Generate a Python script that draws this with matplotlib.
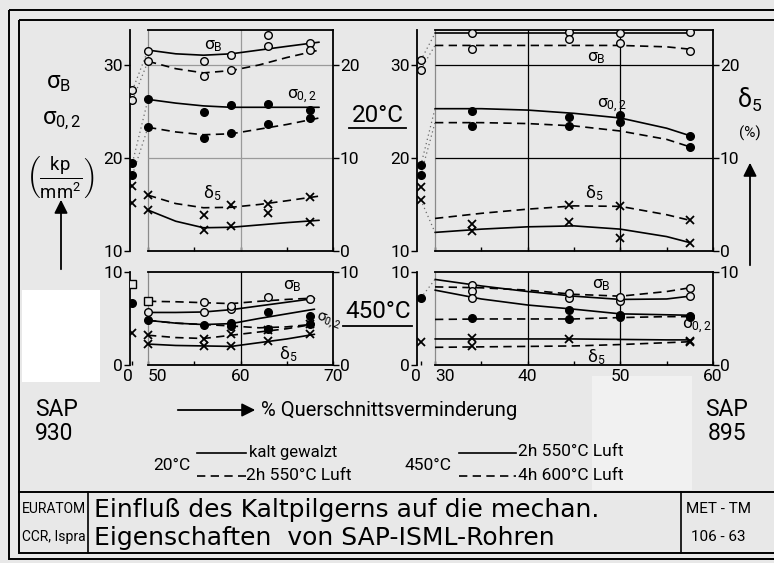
import numpy as np
import matplotlib
matplotlib.use("Agg")
import matplotlib.pyplot as plt
from matplotlib.patches import Rectangle

plt.rcParams['font.family'] = ['Roboto', 'DejaVu Sans']
plt.rcParams['mathtext.fontset'] = 'custom'
plt.rcParams['mathtext.rm'] = 'Roboto'
plt.rcParams['mathtext.it'] = 'Roboto:italic'
plt.rcParams['mathtext.bf'] = 'Roboto:bold'

nan = np.nan

# ---------------- data: SAP 930 ----------------
x930 = [50, 56, 59, 63, 67.5]          # measured % reduction
k930 = [50, 53, 56, 59, 62, 65, 68.5]   # knots of drawn curves (20 C)
k930b = [50, 53, 56, 59, 62, 65, 68]    # knots of drawn curves (450 C)

# 20 C  (sigma in kp/mm2, delta5 in %)
sB930_20_kalt = [31.5, nan, 31.1, 32.0, 32.4]
sB930_20_gegl = [30.4, 28.8, 29.5, nan, 31.6]
sB930_20_extra_x = [56, 63]
sB930_20_extra = [30.4, 33.2]
s02930_20_kalt = [26.3, 24.9, 25.7, 25.8, 25.2]
s02930_20_gegl = [23.3, 22.2, 22.7, 23.7, 24.3]
d5930_20_kalt = [4.4, 2.3, 2.7, nan, 3.15]
d5930_20_gegl = [6.0, 3.9, 4.9, 5.05, 5.8]
d5930_20_extra_x = [63]
d5930_20_extra = [4.05]

sB930_20_kalt_fit = [31.6, 31.2, 31.05, 31.2, 31.6, 32.0, 32.45]
sB930_20_gegl_fit = [30.4, 29.6, 29.15, 29.4, 30.0, 30.8, 31.6]
s02930_20_kalt_fit = [26.3, 25.9, 25.6, 25.45, 25.45, 25.45, 25.45]
s02930_20_gegl_fit = [23.3, 22.8, 22.5, 22.6, 23.1, 23.6, 24.3]
d5930_20_kalt_fit = [4.4, 3.2, 2.5, 2.55, 2.8, 3.05, 3.3]
d5930_20_gegl_fit = [6.0, 5.1, 4.65, 4.7, 5.0, 5.4, 5.9]

sB930_20_0 = [27.3, 26.2]
s02930_20_0 = [19.5, 18.2]
d5930_20_0 = [7.0, 5.2]

# 450 C
sB930_450_a = [5.7, 5.7, 6.0, nan, nan]
sB930_450_b = [6.85, 6.75, 6.3, 7.3, 7.1]
s02930_450_a = [4.8, 4.35, 4.5, 5.7, 5.3]
s02930_450_b = [nan, nan, 4.2, 3.9, 4.4]
d5930_450_a = [2.25, 2.05, 2.0, 2.6, 3.3]
d5930_450_b = [3.2, 2.8, 3.3, 3.8, 4.4]

sB930_450_a_fit = [5.65, 5.65, 5.7, 5.95, 6.35, 6.75, 7.15]
sB930_450_b_fit = [6.85, 6.8, 6.7, 6.6, 6.85, 7.05, 7.2]
s02930_450_a_fit = [4.8, 4.5, 4.35, 4.45, 5.0, 5.5, 6.0]
s02930_450_b_fit = [4.8, 4.5, 4.35, 4.2, 4.0, 4.1, 4.4]
d5930_450_a_fit = [2.25, 2.1, 2.05, 2.0, 2.4, 2.8, 3.3]
d5930_450_b_fit = [3.2, 2.95, 2.85, 3.2, 3.55, 3.9, 4.4]

sB930_450_0 = [8.7]
s02930_450_0 = [6.7]
d5930_450_0 = [3.4]

# ---------------- data: SAP 895 ----------------
x895 = [34, 44.5, 50, 57.5]
k895 = [30, 35, 40, 45, 50, 55, 57.5]

sB895_20_kalt = [33.4, 33.5, 33.4, 33.5]
sB895_20_gegl = [31.7, 32.8, 32.4, 31.5]
s02895_20_kalt = [25.0, 24.4, 24.6, 22.4]
s02895_20_gegl = [23.4, 23.4, 23.9, 21.2]
d5895_20_kalt = [2.1, 3.15, 1.4, 0.9]
d5895_20_gegl = [nan, 4.95, 4.8, 3.3]
d5895_20_extra_x = [34]
d5895_20_extra = [2.9]

sB895_20_kalt_fit = [33.4, 33.4, 33.4, 33.4, 33.4, 33.4, 33.4]
sB895_20_gegl_fit = [32.1, 32.1, 32.1, 32.1, 32.1, 31.95, 31.7]
s02895_20_kalt_fit = [25.3, 25.3, 25.15, 24.8, 24.3, 23.2, 22.4]
s02895_20_gegl_fit = [23.8, 23.8, 23.7, 23.45, 22.9, 22.0, 21.2]
d5895_20_kalt_fit = [2.0, 2.35, 2.6, 2.7, 2.35, 1.55, 0.9]
d5895_20_gegl_fit = [3.5, 4.05, 4.5, 4.85, 4.8, 3.9, 3.3]

sB895_20_0 = [30.5, 29.5]
s02895_20_0 = [19.2, 18.2]
d5895_20_0 = [6.9, 5.5]

sB895_450_a = [8.6, 7.2, 6.9, 7.4]
sB895_450_b = [8.0, 7.7, 7.35, 8.3]
sB895_450_extra_x = [34]
sB895_450_extra = [7.2]
s02895_450_a = [nan, 5.9, 5.4, 5.3]
s02895_450_b = [5.05, 4.95, 5.2, 5.2]
d5895_450_a = [2.9, 2.8, nan, 2.6]
d5895_450_b = [2.05, nan, nan, 2.5]

sB895_450_a_fit = [9.2, 8.5, 7.9, 7.4, 7.05, 7.1, 7.4]
sB895_450_b_fit = [8.4, 8.3, 8.05, 7.6, 7.4, 7.9, 8.3]
s02895_450_a_fit = [8.05, 7.1, 6.45, 6.0, 5.5, 5.4, 5.35]
s02895_450_b_fit = [4.9, 4.95, 4.95, 4.95, 5.1, 5.2, 5.2]
d5895_450_a_fit = [2.8, 2.8, 2.8, 2.8, 2.75, 2.7, 2.7]
d5895_450_b_fit = [1.9, 1.95, 2.0, 2.05, 2.2, 2.4, 2.5]

s02895_450_0 = [7.2]
d5895_450_0 = [2.5]

# ---------------- figure ----------------
W, H = 774, 563
BG = '#e8e8e8'
fig = plt.figure(figsize=(W / 100, H / 100), dpi=100, facecolor=BG)
bg = fig.add_axes([0, 0, 1, 1], zorder=-5)
bg.set_xlim(0, W)
bg.set_ylim(H, 0)
bg.axis('off')


def rect(l, t, r, b):
    return [l / W, 1 - b / H, (r - l) / W, (b - t) / H]


SOLID = '-'
DASH = (0, (5, 3.2))
DOT = (0, (1, 2.5))
LW = 1.2


def make_panel(l, t, r, box_l, b, xlo, brk, xhi, ylim_s, ylim_d,
               yt_s, yt_d, xt, xlabels, minor_x, grid_x, grid_y, gcol):
    ax = fig.add_axes(rect(l, t, r, b))
    ax.patch.set_alpha(0)
    box_px = r - box_l
    gap_units = (box_l - l) * (xhi - brk) / box_px
    k = gap_units / (brk - xlo)

    def fwd(x):
        x = np.asarray(x, float)
        return np.where(x >= brk, x, brk - (brk - x) * k)

    def inv(u):
        u = np.asarray(u, float)
        return np.where(u >= brk, u, brk - (brk - u) / k)

    ax.set_xscale('function', functions=(fwd, inv))
    ax.set_xlim(xlo, xhi)
    ax.set_ylim(*ylim_s)
    for s in ['bottom', 'top']:
        ax.spines[s].set_bounds(brk, xhi)
        ax.spines[s].set_linewidth(1.3)
    ax.spines['left'].set_linewidth(1.3)
    ax.spines['right'].set_visible(False)
    ax.axvline(brk, color='#8a8a8a', lw=0.9)
    for gx in grid_x:
        ax.axvline(gx, color=gcol, lw=0.9)
    for gy in grid_y:
        ax.hlines(gy, brk, xhi, color=gcol, lw=0.9)
    ax.set_yticks(yt_s)
    ax.set_yticklabels([str(v) for v in yt_s])
    ax.tick_params(axis='y', direction='out', length=4, width=1, labelsize=12.5, pad=1)
    ax.set_xticks(xt)
    ax.set_xticklabels(xlabels)
    ax.set_xticks(minor_x, minor=True)
    ax.tick_params(axis='x', which='both', direction='in', length=3, width=1,
                   labelsize=12.5, pad=3)
    if xlabels and xlabels[0] == '0':
        lbls = ax.get_xticklabels()
        lbls[0].set_horizontalalignment('right')
        lbls[1].set_horizontalalignment('left')
    tw = ax.twinx()
    tw.set_ylim(*ylim_d)
    for s in ['left', 'top', 'bottom']:
        tw.spines[s].set_visible(False)
    tw.spines['right'].set_linewidth(1.3)
    tw.set_yticks(yt_d)
    tw.set_yticklabels([str(v) for v in yt_d])
    tw.tick_params(axis='y', direction='out', length=4, width=1, labelsize=12.5, pad=1)
    return ax, tw


def curve(ax, x, y, ls):
    ax.plot(x, y, color='k', lw=LW, linestyle=ls, solid_capstyle='round')


def pts(ax, x, y, kind):
    if kind == 'open':
        ax.plot(x, y, 'o', ms=5.5, mfc=BG, mec='k', mew=1.0, zorder=5)
    elif kind == 'square':
        ax.plot(x, y, 's', ms=5.5, mfc=BG, mec='k', mew=1.0, zorder=5)
    elif kind == 'full':
        ax.plot(x, y, 'o', ms=5.5, mfc='k', mec='k', zorder=5)
    else:
        ax.plot(x, y, 'x', ms=5.5, mec='k', mew=1.3, zorder=5)


def origin(ax, vals, kind):
    pts(ax, [0] * len(vals), vals, kind)


def link(ax, v0, x1, v1):
    ax.plot([0, x1], [v0, v1], color='#6a6a6a', lw=0.9, linestyle=DOT)


# ---- SAP 930, 20 C ----
ax, tw = make_panel(130, 30, 333, 148, 251, -8, 50, 70, (10, 33.76), (0, 23.76),
                    [10, 20, 30], [0, 10, 20], [50, 60, 70], ['', '', ''], [55, 65],
                    [60], [20, 30], '#9a9a9a')
curve(ax, k930, sB930_20_kalt_fit, SOLID)
curve(ax, k930, sB930_20_gegl_fit, DASH)
curve(ax, k930, s02930_20_kalt_fit, SOLID)
curve(ax, k930, s02930_20_gegl_fit, DASH)
pts(ax, x930, sB930_20_kalt, 'open')
pts(ax, x930, sB930_20_gegl, 'open')
pts(ax, sB930_20_extra_x, sB930_20_extra, 'open')
pts(ax, x930, s02930_20_kalt, 'full')
pts(ax, x930, s02930_20_gegl, 'full')
origin(ax, sB930_20_0, 'open')
origin(ax, s02930_20_0, 'full')
link(ax, sB930_20_0[0], k930[0], sB930_20_kalt_fit[0])
link(ax, sB930_20_0[1], k930[0], sB930_20_gegl_fit[0])
link(ax, s02930_20_0[0], k930[0], s02930_20_kalt_fit[0])
link(ax, s02930_20_0[1], k930[0], s02930_20_gegl_fit[0])
curve(tw, k930, d5930_20_kalt_fit, SOLID)
curve(tw, k930, d5930_20_gegl_fit, DASH)
pts(tw, x930, d5930_20_kalt, 'x')
pts(tw, x930, d5930_20_gegl, 'x')
pts(tw, d5930_20_extra_x, d5930_20_extra, 'x')
origin(tw, d5930_20_0, 'x')

# ---- SAP 930, 450 C ----
ax, tw = make_panel(130, 272, 333, 148, 365, -8, 50, 70, (0, 10), (0, 10),
                    [0, 10], [0, 10], [0, 50, 60, 70], ['0', '50', '60', '70'], [55, 65],
                    [60], [], 'k')
curve(ax, k930b, sB930_450_a_fit, SOLID)
curve(ax, k930b, sB930_450_b_fit, DASH)
curve(ax, k930b, s02930_450_a_fit, SOLID)
curve(ax, k930b, s02930_450_b_fit, DASH)
pts(ax, x930, sB930_450_a, 'open')
pts(ax, x930[1:], sB930_450_b[1:], 'open')
pts(ax, x930[:1], sB930_450_b[:1], 'square')
pts(ax, x930, s02930_450_a, 'full')
pts(ax, x930, s02930_450_b, 'full')
origin(ax, sB930_450_0, 'square')
origin(ax, s02930_450_0, 'full')
curve(tw, k930b, d5930_450_a_fit, SOLID)
curve(tw, k930b, d5930_450_b_fit, DASH)
pts(tw, x930, d5930_450_a, 'x')
pts(tw, x930, d5930_450_b, 'x')
origin(tw, d5930_450_0, 'x')

# ---- SAP 895, 20 C ----
ax, tw = make_panel(417, 30, 713, 435, 251, -8, 30, 60, (10, 33.76), (0, 23.76),
                    [10, 20, 30], [0, 10, 20], [30, 40, 50, 60], ['', '', '', ''], [35, 45, 55],
                    [40, 50], [20, 30], 'k')
curve(ax, k895, sB895_20_kalt_fit, SOLID)
curve(ax, k895, sB895_20_gegl_fit, DASH)
curve(ax, k895, s02895_20_kalt_fit, SOLID)
curve(ax, k895, s02895_20_gegl_fit, DASH)
pts(ax, x895, sB895_20_kalt, 'open')
pts(ax, x895, sB895_20_gegl, 'open')
pts(ax, x895, s02895_20_kalt, 'full')
pts(ax, x895, s02895_20_gegl, 'full')
origin(ax, sB895_20_0, 'open')
origin(ax, s02895_20_0, 'full')
link(ax, sB895_20_0[0], k895[0], sB895_20_kalt_fit[0])
link(ax, sB895_20_0[1], k895[0], sB895_20_gegl_fit[0])
link(ax, s02895_20_0[0], k895[0], s02895_20_kalt_fit[0])
link(ax, s02895_20_0[1], k895[0], s02895_20_gegl_fit[0])
curve(tw, k895, d5895_20_kalt_fit, SOLID)
curve(tw, k895, d5895_20_gegl_fit, DASH)
pts(tw, x895, d5895_20_kalt, 'x')
pts(tw, x895, d5895_20_gegl, 'x')
pts(tw, d5895_20_extra_x, d5895_20_extra, 'x')
origin(tw, d5895_20_0, 'x')
tw.plot([0, k895[0]], [d5895_20_0[1], d5895_20_kalt_fit[0]], color='#6a6a6a', lw=0.9, linestyle=DOT)

# ---- SAP 895, 450 C ----
ax, tw = make_panel(417, 272, 713, 435, 365, -8, 30, 60, (0, 10), (0, 10),
                    [0, 10], [0, 10], [0, 30, 40, 50, 60], ['0', '30', '40', '50', '60'],
                    [35, 45, 55], [40, 50], [], 'k')
curve(ax, k895, sB895_450_a_fit, SOLID)
curve(ax, k895, sB895_450_b_fit, DASH)
curve(ax, k895, s02895_450_a_fit, SOLID)
curve(ax, k895, s02895_450_b_fit, DASH)
pts(ax, x895, sB895_450_a, 'open')
pts(ax, x895, sB895_450_b, 'open')
pts(ax, sB895_450_extra_x, sB895_450_extra, 'open')
pts(ax, x895, s02895_450_a, 'full')
pts(ax, x895, s02895_450_b, 'full')
origin(ax, s02895_450_0, 'full')
link(ax, s02895_450_0[0], k895[0], sB895_450_a_fit[0])
curve(tw, k895, d5895_450_a_fit, SOLID)
curve(tw, k895, d5895_450_b_fit, DASH)
pts(tw, x895, d5895_450_a, 'x')
pts(tw, x895, d5895_450_b, 'x')
origin(tw, d5895_450_0, 'x')

# ---------------- frame, labels, title block ----------------
bg.add_patch(Rectangle((22, 290), 78, 92, fc='white', ec='none'))
bg.add_patch(Rectangle((592, 376), 100, 114, fc='#f1f1f1', ec='none'))
bg.add_patch(Rectangle((9, 10), 800, 549, fc='none', ec='k', lw=1.4))
bg.add_patch(Rectangle((19, 20), 800, 533, fc='none', ec='k', lw=1.4))
bg.plot([19, 780], [492, 492], color='k', lw=1.4)
bg.plot([88, 88], [492, 553], color='k', lw=1.2)
bg.plot([681, 681], [492, 553], color='k', lw=1.2)

# panel curve names
lab = dict(fontsize=12.5, ha='center', va='center')
bg.text(213, 46, 'σ$_\\mathrm{B}$', **lab)
bg.text(302, 97, 'σ$_{0,2}$', **lab)
bg.text(212, 193, 'δ$_5$', **lab)
bg.text(596, 58, 'σ$_\\mathrm{B}$', **lab)
bg.text(612, 106, 'σ$_{0,2}$', **lab)
bg.text(594, 193, 'δ$_5$', **lab)
bg.text(292, 286, 'σ$_\\mathrm{B}$', **lab)
bg.text(328, 322, 'σ$_{0,2}$', fontsize=11, ha='center', va='center', rotation=-20)
bg.text(288, 354, 'δ$_5$', **lab)
bg.text(601, 285, 'σ$_\\mathrm{B}$', **lab)
bg.text(697, 327, 'σ$_{0,2}$', **lab)
bg.text(596, 357, 'δ$_5$', **lab)

# left ordinate description
bg.text(58, 82, 'σ$_\\mathrm{B}$', fontsize=17, ha='center', va='center')
bg.text(62, 120, 'σ$_{0,2}$', fontsize=17, ha='center', va='center')
bg.text(60, 177, r'$\left(\frac{\mathrm{kp}}{\mathrm{mm^2}}\right)$', fontsize=19,
        ha='center', va='center')
bg.annotate('', xy=(61, 197), xytext=(61, 272),
            arrowprops=dict(arrowstyle='-|>', lw=1.3, color='k', mutation_scale=20))

# right ordinate description
bg.text(750, 100, 'δ$_5$', fontsize=18, ha='center', va='center')
bg.text(750, 133, '(%)', fontsize=11, ha='center', va='center')
bg.annotate('', xy=(750, 160), xytext=(750, 268),
            arrowprops=dict(arrowstyle='-|>', lw=1.3, color='k', mutation_scale=20))

# temperatures
bg.text(378, 116, '20°C', fontsize=17.5, ha='center', va='center')
bg.plot([349, 406], [128, 128], color='k', lw=1.3)
bg.text(378, 312, '450°C', fontsize=17.5, ha='center', va='center')
bg.plot([343, 412], [326, 326], color='k', lw=1.3)

# materials
bg.text(35, 409, 'SAP', fontsize=16.5, ha='left', va='center')
bg.text(35, 433, '930', fontsize=16.5, ha='left', va='center')
bg.text(727, 409, 'SAP', fontsize=16.5, ha='center', va='center')
bg.text(727, 433, '895', fontsize=16.5, ha='center', va='center')

# abscissa description
bg.annotate('', xy=(258, 410), xytext=(175, 410),
            arrowprops=dict(arrowstyle='-|>', lw=1.3, color='k', mutation_scale=20))
bg.text(261, 410, '% Querschnittsverminderung', fontsize=14.5, ha='left', va='center')

# legend
bg.text(172, 465, '20°C', fontsize=12.5, ha='center', va='center')
bg.plot([197, 246], [453, 453], color='k', lw=1.2)
bg.plot([197, 246], [476, 476], color='k', lw=1.2, linestyle=DASH)
bg.text(249, 452, 'kalt gewalzt', fontsize=12, ha='left', va='center')
bg.text(246, 475, '2h 550°C Luft', fontsize=12.5, ha='left', va='center')
bg.text(428, 466, '450°C', fontsize=12.5, ha='center', va='center')
bg.plot([459, 516], [453, 453], color='k', lw=1.2)
bg.plot([459, 516], [476, 476], color='k', lw=1.2, linestyle=DASH)
bg.text(518, 452, '2h 550°C Luft', fontsize=12.5, ha='left', va='center')
bg.text(518, 475, '4h 600°C Luft', fontsize=12.5, ha='left', va='center')

# title block
bg.text(54, 509, 'EURATOM', fontsize=10, ha='center', va='center')
bg.text(54, 537, 'CCR, Ispra', fontsize=10, ha='center', va='center')
bg.text(94, 510, 'Einfluß des Kaltpilgerns auf die mechan.', fontsize=18,
        ha='left', va='center', family='DejaVu Sans')
bg.text(94, 538, 'Eigenschaften  von SAP-ISML-Rohren', fontsize=18,
        ha='left', va='center', family='DejaVu Sans')
bg.text(718, 509, 'MET - TM', fontsize=11, ha='center', va='center')
bg.text(718, 537, '106 - 63', fontsize=11, ha='center', va='center')

fig.savefig('out.png', dpi=100, facecolor=BG)
